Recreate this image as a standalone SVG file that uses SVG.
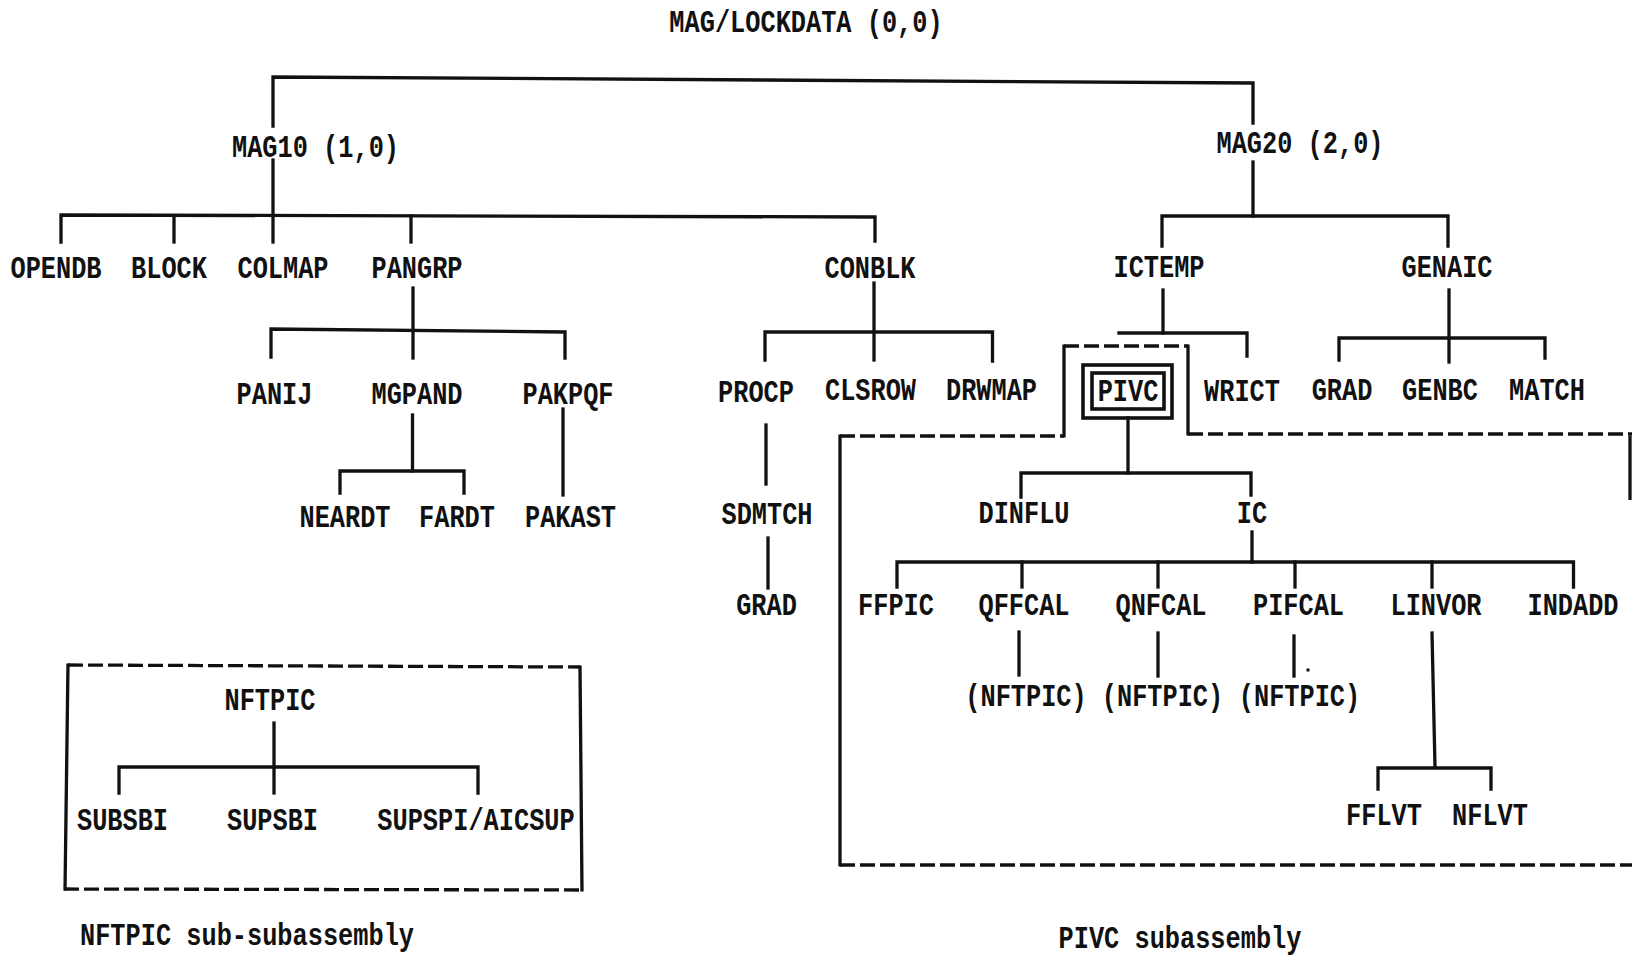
<svg xmlns="http://www.w3.org/2000/svg" width="1632" height="960" viewBox="0 0 1632 960">
<style>
  .bg { fill: #ffffff; }
  .t { font-family: "Liberation Mono", "DejaVu Sans Mono", monospace; font-size: 25.3px; font-weight: bold; fill: #111111; text-anchor: middle; }
  .cap { font-family: "Liberation Mono", "DejaVu Sans Mono", monospace; font-size: 25.3px; font-weight: bold; fill: #111111; }
  .ln { fill: none; stroke: #111111; stroke-width: 3.3; stroke-linecap: square; stroke-linejoin: miter; }
  .dash { fill: none; stroke: #111111; stroke-width: 3.3; stroke-dasharray: 15 5; }
  .solid { fill: none; stroke: #111111; stroke-width: 3.3; }
  .box { fill: none; stroke: #111111; stroke-width: 3.6; }
</style>
<rect class="bg" x="0" y="0" width="1632" height="960"/>

<g id="connectors">
  <path class="ln" d="M273,126 L273,77 L1253,83 L1253,123"/>
  <path class="ln" d="M273,160 V242"/>
  <path class="ln" d="M61,242 V215 L875,217 V241"/>
  <path class="ln" d="M174,216 V242"/>
  <path class="ln" d="M411,216 V242"/>
  <path class="ln" d="M1253,162 V216"/>
  <path class="ln" d="M1162,246 V216 H1448 V246"/>
  <path class="ln" d="M413,288 V358"/>
  <path class="ln" d="M271,357 V329 L565,332 V358"/>
  <path class="ln" d="M412.5,415 V471"/>
  <path class="ln" d="M340,493 V471 H464 V493"/>
  <path class="ln" d="M563,409 V495"/>
  <path class="ln" d="M874,283 V360"/>
  <path class="ln" d="M765,360 V332 H992.5 V361"/>
  <path class="ln" d="M766,425 V484"/>
  <path class="ln" d="M768,538 V588"/>
  <path class="ln" d="M1163,290 V333"/>
  <path class="ln" d="M1119,333 H1247 V356"/>
  <path class="ln" d="M1449,290 V362"/>
  <path class="ln" d="M1339,360 V338 H1545 V358"/>
  <path class="ln" d="M1128,418 V473"/>
  <path class="ln" d="M1021,497 V473 H1251 V495"/>
  <path class="ln" d="M1252,532 V562"/>
  <path class="ln" d="M897,587 V562 H1573.5 V587"/>
  <path class="ln" d="M1022,562 V587"/>
  <path class="ln" d="M1158,562 V587"/>
  <path class="ln" d="M1295,562 V587"/>
  <path class="ln" d="M1432,562 V587"/>
  <path class="ln" d="M1019,632 V675"/>
  <path class="ln" d="M1158,633 V676"/>
  <path class="ln" d="M1294,636 V676"/>
  <rect x="1306.5" y="668.5" width="3" height="3" fill="#111111"/>
  <path class="ln" d="M1432,633 L1435,767"/>
  <path class="ln" d="M1378,789 V768 H1491 V789"/>
  <path class="ln" d="M274,723 V793"/>
  <path class="ln" d="M119,793 V767 H478 V793"/>
</g>

<g id="pivc-subassembly-outline">
  <path class="dash" d="M1188,434 H1632"/>
  <path class="dash" d="M1064,346 H1188"/>
  <path class="dash" d="M840,436 H1064"/>
  <path class="dash" d="M840,865 H1632"/>
  <path class="solid" d="M1188,344.5 V435.5"/>
  <path class="solid" d="M1064,344.5 V437.5"/>
  <path class="solid" d="M840,434.5 V866.5"/>
  <path class="solid" d="M1630,436 V500"/>
</g>

<g id="nftpic-subassembly-outline">
  <path class="dash" d="M68,665 L580,667"/>
  <path class="dash" d="M64,889 L583,890"/>
  <path class="solid" d="M68,663.5 L65,890.5"/>
  <path class="solid" d="M580,665.5 L582,891.5"/>
</g>

<g id="n-root"><text class="t" transform="translate(806,32) scale(1,1.22)">MAG/LOCKDATA (0,0)</text></g>
<g id="n-mag10"><text class="t" transform="translate(315.5,157) scale(1,1.22)">MAG10 (1,0)</text></g>
<g id="n-mag20"><text class="t" transform="translate(1300,153) scale(1,1.22)">MAG20 (2,0)</text></g>

<g id="n-opendb"><text class="t" transform="translate(56,278) scale(1,1.22)">OPENDB</text></g>
<g id="n-block"><text class="t" transform="translate(169,278) scale(1,1.22)">BLOCK</text></g>
<g id="n-colmap"><text class="t" transform="translate(283,278) scale(1,1.22)">COLMAP</text></g>
<g id="n-pangrp"><text class="t" transform="translate(417,278) scale(1,1.22)">PANGRP</text></g>
<g id="n-conblk"><text class="t" transform="translate(870,278) scale(1,1.22)">CONBLK</text></g>
<g id="n-ictemp"><text class="t" transform="translate(1159,277) scale(1,1.22)">ICTEMP</text></g>
<g id="n-genaic"><text class="t" transform="translate(1447,277) scale(1,1.22)">GENAIC</text></g>

<g id="n-panij"><text class="t" transform="translate(274.5,404) scale(1,1.22)">PANIJ</text></g>
<g id="n-mgpand"><text class="t" transform="translate(417,404) scale(1,1.22)">MGPAND</text></g>
<g id="n-pakpqf"><text class="t" transform="translate(568,404) scale(1,1.22)">PAKPQF</text></g>
<g id="n-procp"><text class="t" transform="translate(756,402) scale(1,1.22)">PROCP</text></g>
<g id="n-clsrow"><text class="t" transform="translate(870.5,400) scale(1,1.22)">CLSROW</text></g>
<g id="n-drwmap"><text class="t" transform="translate(991.5,400) scale(1,1.22)">DRWMAP</text></g>
<g id="n-pivc">
  <rect class="box" x="1083" y="365" width="89" height="53"/>
  <rect class="box" x="1092" y="373" width="72" height="36"/>
  <text class="t" transform="translate(1128,401) scale(1,1.22)">PIVC</text>
</g>
<g id="n-wrict"><text class="t" transform="translate(1242,401) scale(1,1.22)">WRICT</text></g>
<g id="n-grad1"><text class="t" transform="translate(1342,400) scale(1,1.22)">GRAD</text></g>
<g id="n-genbc"><text class="t" transform="translate(1440,400) scale(1,1.22)">GENBC</text></g>
<g id="n-match"><text class="t" transform="translate(1547,400) scale(1,1.22)">MATCH</text></g>

<g id="n-neardt"><text class="t" transform="translate(345,527) scale(1,1.22)">NEARDT</text></g>
<g id="n-fardt"><text class="t" transform="translate(457,527) scale(1,1.22)">FARDT</text></g>
<g id="n-pakast"><text class="t" transform="translate(570.5,527) scale(1,1.22)">PAKAST</text></g>
<g id="n-sdmtch"><text class="t" transform="translate(767,524) scale(1,1.22)">SDMTCH</text></g>
<g id="n-grad2"><text class="t" transform="translate(766.5,615) scale(1,1.22)">GRAD</text></g>

<g id="n-dinflu"><text class="t" transform="translate(1024,523) scale(1,1.22)">DINFLU</text></g>
<g id="n-ic"><text class="t" transform="translate(1252,523) scale(1,1.22)">IC</text></g>

<g id="n-ffpic"><text class="t" transform="translate(896,615) scale(1,1.22)">FFPIC</text></g>
<g id="n-qffcal"><text class="t" transform="translate(1024,615) scale(1,1.22)">QFFCAL</text></g>
<g id="n-qnfcal"><text class="t" transform="translate(1161,615) scale(1,1.22)">QNFCAL</text></g>
<g id="n-pifcal"><text class="t" transform="translate(1298.5,615) scale(1,1.22)">PIFCAL</text></g>
<g id="n-linvor"><text class="t" transform="translate(1436,615) scale(1,1.22)">LINVOR</text></g>
<g id="n-indadd"><text class="t" transform="translate(1573,615) scale(1,1.22)">INDADD</text></g>

<g id="n-nftpic-ref1"><text class="t" transform="translate(1026,706) scale(1,1.22)">(NFTPIC)</text></g>
<g id="n-nftpic-ref2"><text class="t" transform="translate(1162.5,706) scale(1,1.22)">(NFTPIC)</text></g>
<g id="n-nftpic-ref3"><text class="t" transform="translate(1299.5,706) scale(1,1.22)">(NFTPIC)</text></g>

<g id="n-fflvt"><text class="t" transform="translate(1384,825) scale(1,1.22)">FFLVT</text></g>
<g id="n-nflvt"><text class="t" transform="translate(1490,825) scale(1,1.22)">NFLVT</text></g>

<g id="n-nftpic"><text class="t" transform="translate(270,710) scale(1,1.22)">NFTPIC</text></g>
<g id="n-subsbi"><text class="t" transform="translate(122.5,830) scale(1,1.22)">SUBSBI</text></g>
<g id="n-supsbi"><text class="t" transform="translate(272.5,830) scale(1,1.22)">SUPSBI</text></g>
<g id="n-supspi"><text class="t" transform="translate(476,830) scale(1,1.22)">SUPSPI/AICSUP</text></g>

<g id="caption-nftpic"><text class="cap" transform="translate(80,945) scale(1,1.22)">NFTPIC sub-subassembly</text></g>
<g id="caption-pivc"><text class="t" transform="translate(1180,948) scale(1,1.22)">PIVC subassembly</text></g>
</svg>
